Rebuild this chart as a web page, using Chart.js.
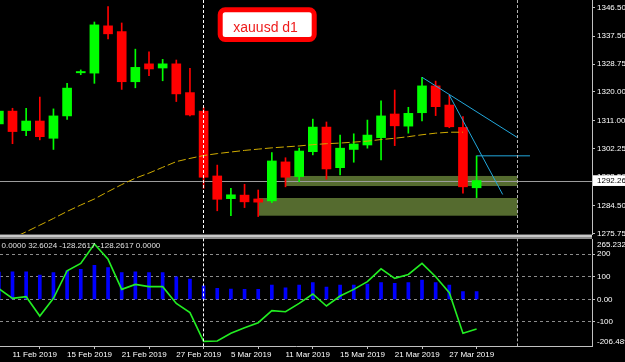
<!DOCTYPE html>
<html><head><meta charset="utf-8">
<script src="https://cdn.jsdelivr.net/npm/chart.js@4/dist/chart.umd.min.js"></script>
<style>
html,body{margin:0;padding:0;background:#000;overflow:hidden}
#wrap{position:relative;width:625px;height:362px;background:#000}
canvas{position:absolute;left:0;top:0}
</style></head><body>
<div id="wrap"><canvas id="main" width="625" height="362"></canvas><canvas id="ind" width="625" height="362"></canvas></div>
<script>
const dates = ['8 Feb 2019','11 Feb 2019','12 Feb 2019','13 Feb 2019','14 Feb 2019','15 Feb 2019','18 Feb 2019','19 Feb 2019','20 Feb 2019','21 Feb 2019','22 Feb 2019','25 Feb 2019','26 Feb 2019','27 Feb 2019','28 Feb 2019','1 Mar 2019','4 Mar 2019','5 Mar 2019','6 Mar 2019','7 Mar 2019','8 Mar 2019','11 Mar 2019','12 Mar 2019','13 Mar 2019','14 Mar 2019','15 Mar 2019','18 Mar 2019','19 Mar 2019','20 Mar 2019','21 Mar 2019','22 Mar 2019','25 Mar 2019','26 Mar 2019','27 Mar 2019','28 Mar 2019','29 Mar 2019'];
const openP  = [1310.0,1314.0,1307.9,1310.9,1305.5,1312.5,1326.0,1325.9,1340.7,1338.9,1323.2,1328.8,1327.5,1328.8,1319.8,1314.0,1293.7,1286.6,1287.7,1286.5,1285.9,1298.1,1293.5,1301.3,1309.0,1296.3,1302.0,1303.4,1305.7,1313.1,1309.3,1313.5,1321.9,1315.9,1308.9,1290.0];
const highP  = [1315.0,1314.9,1314.9,1318.4,1314.7,1322.7,1326.9,1341.9,1346.7,1341.6,1333.4,1332.6,1330.2,1330.0,1327.4,1315.2,1297.1,1289.8,1291.1,1289.3,1301.0,1299.4,1302.4,1311.5,1310.6,1306.5,1306.9,1311.2,1317.2,1320.6,1315.2,1324.6,1323.4,1319.0,1312.3,1300.0];
const lowP   = [1309.0,1303.8,1306.3,1305.0,1302.0,1311.4,1325.4,1322.7,1336.6,1320.8,1321.3,1325.1,1323.5,1317.0,1312.5,1289.8,1282.8,1281.3,1283.8,1281.0,1285.3,1290.3,1291.9,1300.3,1292.7,1294.0,1298.0,1302.4,1298.7,1303.2,1307.1,1310.9,1312.6,1308.8,1288.3,1286.9];
const closeP = [1314.0,1307.6,1310.9,1306.0,1312.5,1321.2,1326.4,1341.0,1338.2,1323.2,1327.7,1327.2,1328.8,1319.4,1312.8,1293.3,1286.4,1287.8,1285.6,1285.5,1298.4,1293.3,1301.5,1309.0,1295.9,1302.4,1303.7,1306.5,1312.5,1309.4,1313.3,1321.9,1315.4,1309.1,1290.3,1292.26];
const maValues = [1272.0,1274.3,1276.2,1278.3,1280.4,1282.6,1284.6,1286.5,1288.8,1291.0,1293.0,1294.6,1296.4,1298.2,1299.2,1300.1,1300.7,1301.2,1301.7,1302.1,1302.5,1302.8,1303.1,1303.5,1303.8,1304.0,1304.3,1304.6,1305.1,1305.5,1306.0,1306.6,1307.1,1307.4,1307.4,null];
const histValues = [120,122,122,107.5,118,126.5,133,150,140,118,122,118,118,100,90,60,48.7,45.6,44,44,63,51,63,73.5,54.5,63,63,67.7,73.5,70.8,73.5,85,73.5,63,34,34];
const cciValues = [47,4.4,11.5,-74,4.4,126.5,159,245,177,44,66,56,56,-18,-59,-186,-184.5,-150,-125.6,-103.5,-50,-55,-18,23.5,-29.6,14.6,44,78,135,93,110,159,100,29,-150,-131];
const priceTicks = [1346.5,1337.5,1328.75,1320,1311,1302.25,1293.5,1284.5,1275.75];
const indTicks = [200,100,0,-100];
const xTickIdx = [1,5,9,13,17,21,25,29,33];
const currentPrice = 1292.26;
const indHeader = [0, 32.6024, -128.2617, -128.2617, 0];
const zones = [[21,38,1293.7,1290.55],[19,38,1286.8,1281.26]];
const trendA = [[31,1324.6],[38,1305.7]];
const trendB = [[33,1319.0],[36.91,1287.9]];
const trendC = [[35,1300.0],[38.91,1300.0]];
const vMarks = [15, 38];
const titleText = 'xauusd d1';
const X_MIN = 0.084, X_MAX = 43.454;
const P_MIN = 1275.53, P_MAX = 1348.79;
const I_MIN = -206.489, I_MAX = 265.2321;

Chart.defaults.font.family = 'Liberation Sans';
Chart.defaults.font.size = 8;
Chart.defaults.color = '#ffffff';
Chart.defaults.animation = false;

const BULL = '#00ff00', BEAR = '#ff0000';
const isBull = i => closeP[i] >= openP[i];
const pts = arr => arr.map(p => ({x: p[0], y: p[1]}));

const vLinePlugin = {
  id: 'vlines',
  afterDatasetsDraw(chart) {
    const {ctx, chartArea: a, scales: {x}} = chart;
    ctx.save();
    ctx.setLineDash([3, 2]);
    ctx.lineWidth = 1;
    vMarks.forEach((m, k) => {
      const px = Math.floor(x.getPixelForValue(m)) + 0.5;
      ctx.strokeStyle = k === 0 ? '#ffffff' : '#b4b4b4';
      ctx.beginPath();
      ctx.moveTo(px, chart.canvas.id === 'main' ? 0 : a.top - 1);
      ctx.lineTo(px, a.bottom);
      ctx.stroke();
    });
    ctx.restore();
  }
};

const mainPlugin = {
  id: 'mainObjects',
  beforeDatasetsDraw(chart) {
    const {ctx, chartArea: a, scales: {x, y}} = chart;
    ctx.save();
    ctx.beginPath(); ctx.rect(a.left, a.top, a.right - a.left, a.bottom - a.top); ctx.clip();
    ctx.fillStyle = 'rgb(85,107,47)';
    zones.forEach(z => {
      const x0 = x.getPixelForValue(z[0]), x1 = x.getPixelForValue(z[1]);
      const y0 = y.getPixelForValue(z[2]), y1 = y.getPixelForValue(z[3]);
      ctx.fillRect(x0, Math.min(y0, y1), x1 - x0, Math.abs(y1 - y0));
    });
    const py = Math.round(y.getPixelForValue(currentPrice)) + 0.5;
    ctx.strokeStyle = '#9c9c9c'; ctx.lineWidth = 1;
    ctx.beginPath(); ctx.moveTo(a.left, py); ctx.lineTo(a.right, py); ctx.stroke();
    ctx.restore();
  },
  afterDraw(chart) {
    const {ctx, chartArea: a, scales: {y}} = chart;
    ctx.save();
    // separator
    ctx.fillStyle = '#5a5a5a'; ctx.fillRect(0, a.bottom, a.right, 1);
    ctx.fillStyle = '#c8c8c8'; ctx.fillRect(0, a.bottom + 1, a.right, 2);
    ctx.fillStyle = '#8c8c8c'; ctx.fillRect(0, a.bottom + 3, a.right, 2);
    // current price label
    const py = y.getPixelForValue(currentPrice);
    ctx.fillStyle = '#ffffff';
    ctx.fillRect(a.right + 1, py - 5.3, 33, 10.7);
    ctx.fillStyle = '#000000';
    ctx.font = '8px "Liberation Sans"';
    ctx.textBaseline = 'middle';
    ctx.fillText(currentPrice.toFixed(2), a.right + 5, py + 0.5);
    // title box
    ctx.beginPath();
    ctx.roundRect(220.2, 9.8, 94, 29.7, 5);
    ctx.fillStyle = '#ffffff'; ctx.fill();
    ctx.lineWidth = 5; ctx.strokeStyle = '#ff0000'; ctx.stroke();
    ctx.fillStyle = '#ee1c1c';
    ctx.font = '14px "Liberation Sans"';
    ctx.textBaseline = 'alphabetic';
    ctx.fillText(titleText, 233.3, 32);
    ctx.restore();
  }
};

new Chart(document.getElementById('main'), {
  type: 'bar',
  data: {
    datasets: [
      {type: 'line', data: pts(trendA), borderColor: '#22a8dc', borderWidth: 1, pointRadius: 0, order: 0},
      {type: 'line', data: pts(trendB), borderColor: '#22a8dc', borderWidth: 1, pointRadius: 0, order: 0},
      {type: 'line', data: pts(trendC), borderColor: '#22a8dc', borderWidth: 1, pointRadius: 0, order: 0},
      {type: 'line', data: maValues.map((v, i) => ({x: i, y: v})), borderColor: '#d0ac00', borderWidth: 1, borderDash: [8, 3], pointRadius: 0, order: 1, spanGaps: false},
      {type: 'bar', data: closeP.map((c, i) => ({x: i, y: [openP[i], c]})), backgroundColor: closeP.map((c, i) => isBull(i) ? BULL : BEAR), borderWidth: 0, barThickness: 9, grouped: false, minBarLength: 1, order: 2},
      {type: 'bar', data: highP.map((h, i) => ({x: i, y: [lowP[i], h]})), backgroundColor: closeP.map((c, i) => isBull(i) ? BULL : BEAR), borderWidth: 0, barThickness: 1, grouped: false, order: 3}
    ]
  },
  options: {
    responsive: false,
    devicePixelRatio: 1,
    events: [],
    layout: {padding: {left: 0, right: 0, top: 0, bottom: 128}},
    plugins: {legend: {display: false}, tooltip: {enabled: false}},
    scales: {
      x: {type: 'linear', min: X_MIN, max: X_MAX, display: false, offset: false},
      y: {
        type: 'linear', position: 'right', min: P_MIN, max: P_MAX,
        afterBuildTicks: s => { s.ticks = priceTicks.map(v => ({value: v})); },
        afterFit: s => { s.width = 33; s.paddingTop = 0; s.paddingBottom = 0; },
        ticks: {autoSkip: false, padding: 2, color: '#ffffff', callback: v => Number(v).toFixed(2)},
        grid: {drawOnChartArea: false, drawTicks: true, tickLength: 3, color: '#c0c0c0'},
        border: {display: true, color: '#c0c0c0'}
      }
    }
  },
  plugins: [mainPlugin, vLinePlugin]
});

const indPlugin = {
  id: 'indObjects',
  afterDraw(chart) {
    const {ctx, chartArea: a, scales: {y}} = chart;
    ctx.save();
    ctx.font = '8px "Liberation Sans"';
    ctx.textBaseline = 'middle';
    ctx.fillStyle = '#e0e0e0';
    ctx.fillText(indHeader.map(v => v.toFixed(4)).join(' '), 1.5, a.top + 6);
    ctx.fillStyle = '#ffffff';
    ctx.fillText(y.max.toFixed(4), a.right + 5, a.top + 5);
    ctx.fillText(y.min.toFixed(3), a.right + 5, a.bottom - 4);
    ctx.restore();
  }
};

new Chart(document.getElementById('ind'), {
  type: 'bar',
  data: {
    datasets: [
      {type: 'line', data: cciValues.map((v, i) => ({x: i, y: v})), borderColor: '#22ee22', borderWidth: 1.6, pointRadius: 0, order: 0, tension: 0},
      {type: 'bar', data: histValues.map((v, i) => ({x: i, y: v})), backgroundColor: '#0000ff', borderWidth: 0, barThickness: 3, grouped: false, order: 1}
    ]
  },
  options: {
    responsive: false,
    devicePixelRatio: 1,
    events: [],
    layout: {padding: {left: 0, right: 0, top: 239.36, bottom: 0}},
    plugins: {legend: {display: false}, tooltip: {enabled: false}},
    scales: {
      x: {
        type: 'linear', min: X_MIN, max: X_MAX, offset: false,
        afterBuildTicks: s => { s.ticks = xTickIdx.map(v => ({value: v})); },
        afterFit: s => { s.height = 16; s.paddingLeft = 0; s.paddingRight = 0; },
        ticks: {autoSkip: false, maxRotation: 0, minRotation: 0, align: 'start', padding: 1, color: '#ffffff', callback: v => dates[v] || ''},
        grid: {drawOnChartArea: false, drawTicks: true, tickLength: 3, color: '#c0c0c0'},
        border: {display: true, color: '#c0c0c0'}
      },
      y: {
        type: 'linear', position: 'right', min: I_MIN, max: I_MAX,
        afterBuildTicks: s => { s.ticks = indTicks.map(v => ({value: v})); },
        afterFit: s => { s.width = 33; s.paddingTop = 0; s.paddingBottom = 0; },
        ticks: {autoSkip: false, padding: 2, color: '#ffffff', callback: v => v === 0 ? '0.00' : String(v)},
        grid: {drawOnChartArea: true, drawTicks: true, tickLength: 3, color: '#8c8c8c', tickColor: '#c0c0c0', tickBorderDash: []},
        border: {display: true, color: '#c0c0c0', dash: [3, 3]}
      }
    }
  },
  plugins: [indPlugin, vLinePlugin]
});
</script></body></html>
